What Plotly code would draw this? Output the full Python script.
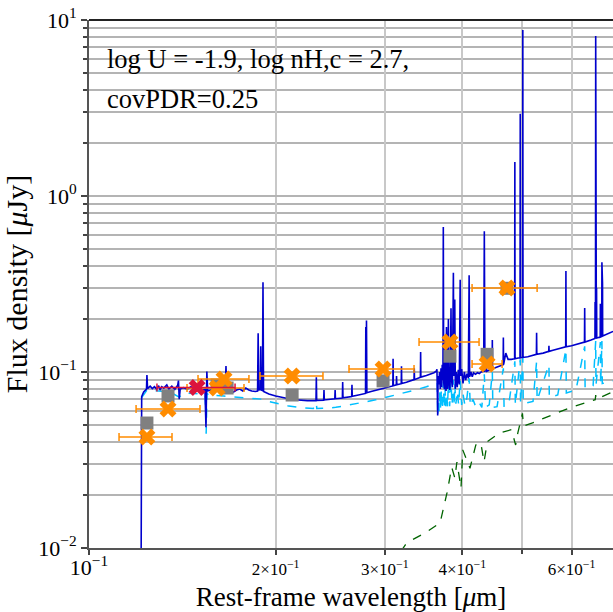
import plotly.graph_objects as go

# ---------------- data ----------------
# total model spectrum (wavelength um, flux uJy)
blue_spectrum = [
    (0.1212, 0.002), (0.1216, 0.0725), (0.1225, 0.077), (0.1238, 0.080), (0.1240, 0.096),
    (0.1243, 0.0805), (0.1255, 0.083), (0.1265, 0.0805), (0.1275, 0.0825), (0.1285, 0.080),
    (0.1295, 0.0835), (0.1302, 0.079), (0.1310, 0.0825), (0.1320, 0.081), (0.1335, 0.0845),
    (0.1345, 0.080), (0.1360, 0.083), (0.1375, 0.0795), (0.1390, 0.084), (0.1394, 0.0893),
    (0.1398, 0.070), (0.1403, 0.080), (0.1420, 0.0815), (0.1440, 0.080), (0.1460, 0.0825),
    (0.1480, 0.0795), (0.1500, 0.081), (0.1520, 0.079), (0.1538, 0.080), (0.1544, 0.0485),
    (0.1549, 0.1005), (0.1554, 0.078), (0.1570, 0.079), (0.1590, 0.0775), (0.1610, 0.079),
    (0.1630, 0.077), (0.1658, 0.078), (0.1663, 0.108), (0.1668, 0.0775), (0.1690, 0.079),
    (0.1710, 0.077), (0.1730, 0.079), (0.1750, 0.080), (0.1770, 0.078), (0.1790, 0.081),
    (0.1810, 0.079), (0.1830, 0.078), (0.1855, 0.0775), (0.1870, 0.078), (0.1874, 0.166),
    (0.1878, 0.079), (0.1889, 0.0795), (0.1892, 0.140), (0.1895, 0.079), (0.1904, 0.0785),
    (0.1908, 0.324), (0.1912, 0.0775), (0.1950, 0.075), (0.2000, 0.073), (0.2050, 0.0715),
    (0.2100, 0.0705), (0.2150, 0.0695), (0.2200, 0.069), (0.2250, 0.0688), (0.2323, 0.0688),
    (0.2326, 0.0934), (0.2329, 0.069), (0.2390, 0.0692), (0.2393, 0.079), (0.2396, 0.0694),
    (0.2491, 0.0705), (0.2494, 0.079), (0.2497, 0.0705), (0.2562, 0.0712), (0.2565, 0.0878),
    (0.2568, 0.0714), (0.2652, 0.0725), (0.2655, 0.0845), (0.2658, 0.0727), (0.2720, 0.074),
    (0.2760, 0.0748), (0.2792, 0.0755), (0.2795, 0.180), (0.2799, 0.076), (0.2802, 0.196),
    (0.2806, 0.0762), (0.2850, 0.0775), (0.2900, 0.079), (0.2950, 0.080), (0.3000, 0.0812),
    (0.3050, 0.0825), (0.3090, 0.0833), (0.3093, 0.1188), (0.3096, 0.0836), (0.3130, 0.0845),
    (0.3133, 0.095), (0.3136, 0.0846), (0.3188, 0.0858), (0.3191, 0.1077), (0.3194, 0.086),
    (0.3250, 0.0875), (0.3300, 0.089), (0.3343, 0.0905), (0.3346, 0.105), (0.3349, 0.0905),
    (0.3400, 0.0925), (0.3423, 0.0935), (0.3426, 0.130), (0.3429, 0.0935), (0.3500, 0.0955),
    (0.3560, 0.0975), (0.3600, 0.099), (0.3630, 0.101), (0.3640, 0.1035), (0.3650, 0.0566),
    (0.3655, 0.095), (0.3665, 0.085), (0.3675, 0.100), (0.3685, 0.080), (0.3695, 0.105),
    (0.3705, 0.082), (0.3712, 0.110), (0.3722, 0.090), (0.3727, 0.667), (0.3732, 0.088),
    (0.3742, 0.080), (0.3750, 0.160), (0.3758, 0.085), (0.3765, 0.078), (0.3771, 0.180),
    (0.3778, 0.090), (0.3788, 0.080), (0.3798, 0.200), (0.3806, 0.088), (0.3818, 0.079),
    (0.3826, 0.095), (0.3835, 0.230), (0.3842, 0.090), (0.3855, 0.082), (0.3869, 0.366),
    (0.3876, 0.095), (0.3889, 0.258), (0.3897, 0.080), (0.3910, 0.100), (0.3925, 0.082),
    (0.3940, 0.103), (0.3955, 0.085), (0.3968, 0.334), (0.3975, 0.095), (0.3990, 0.104),
    (0.4010, 0.086), (0.4030, 0.100), (0.4050, 0.090), (0.4070, 0.098), (0.4090, 0.092),
    (0.4102, 0.355), (0.4110, 0.094), (0.4130, 0.100), (0.4150, 0.094), (0.4170, 0.099),
    (0.4200, 0.097), (0.4230, 0.099), (0.4260, 0.098), (0.4290, 0.100), (0.4330, 0.101),
    (0.4340, 0.630), (0.4350, 0.100), (0.4363, 0.120), (0.4380, 0.101), (0.4400, 0.102),
    (0.4430, 0.103), (0.4467, 0.104), (0.4471, 0.152), (0.4475, 0.104), (0.4530, 0.106),
    (0.4600, 0.108), (0.4654, 0.110), (0.4658, 0.157), (0.4662, 0.110), (0.4700, 0.128),
    (0.4740, 0.118), (0.4800, 0.118), (0.4857, 0.119), (0.4861, 1.56), (0.4865, 0.119),
    (0.4920, 0.120), (0.4955, 0.120), (0.4959, 2.93), (0.4963, 0.121), (0.5003, 0.121),
    (0.5007, 8.77), (0.5011, 0.121), (0.5100, 0.122), (0.5200, 0.124), (0.5266, 0.126),
    (0.5270, 0.167), (0.5274, 0.126), (0.5400, 0.128), (0.5513, 0.131), (0.5517, 0.141),
    (0.5521, 0.131), (0.5600, 0.133), (0.5700, 0.135), (0.5871, 0.139), (0.5876, 0.375),
    (0.5881, 0.139), (0.6000, 0.141), (0.6100, 0.143), (0.6200, 0.146), (0.6295, 0.148),
    (0.6300, 0.231), (0.6305, 0.148), (0.6450, 0.152), (0.6545, 0.155), (0.6548, 0.250),
    (0.6551, 0.155), (0.6558, 0.155), (0.6563, 8.10), (0.6568, 0.156), (0.6579, 0.156),
    (0.6584, 0.300), (0.6589, 0.156), (0.6674, 0.158), (0.6678, 0.244), (0.6682, 0.158),
    (0.6712, 0.159), (0.6716, 0.420), (0.6720, 0.159), (0.6727, 0.159), (0.6731, 0.320),
    (0.6735, 0.160), (0.7000, 0.170),
]

# attenuated stellar + nebular component (light-blue dashed)
lightblue_spectrum = [
    (0.1216, 0.0715), (0.1240, 0.079), (0.1260, 0.0785), (0.1300, 0.0775), (0.1350, 0.077),
    (0.1398, 0.072), (0.1420, 0.076), (0.1480, 0.0755), (0.1520, 0.075), (0.1540, 0.0745),
    (0.1545, 0.0446), (0.1550, 0.076), (0.1560, 0.073), (0.1600, 0.0735), (0.1650, 0.073),
    (0.1700, 0.0725), (0.1750, 0.072), (0.1800, 0.0715), (0.1850, 0.0705), (0.1908, 0.070),
    (0.1950, 0.068), (0.2000, 0.0665), (0.2050, 0.065), (0.2100, 0.064), (0.2200, 0.0628),
    (0.2300, 0.062), (0.2326, 0.067), (0.2330, 0.062), (0.2400, 0.0622), (0.2500, 0.063),
    (0.2600, 0.0645), (0.2700, 0.066), (0.2800, 0.0675), (0.2900, 0.0695), (0.3000, 0.0715),
    (0.3100, 0.0735), (0.3200, 0.0755), (0.3300, 0.078), (0.3400, 0.080), (0.3500, 0.0825),
    (0.3600, 0.085), (0.3645, 0.0865), (0.3650, 0.056), (0.3660, 0.070), (0.3670, 0.060),
    (0.3680, 0.078), (0.3690, 0.062), (0.3700, 0.080), (0.3712, 0.061), (0.3727, 0.088),
    (0.3740, 0.062), (0.3750, 0.082), (0.3760, 0.064), (0.3771, 0.085), (0.3785, 0.063),
    (0.3798, 0.087), (0.3815, 0.064), (0.3835, 0.088), (0.3850, 0.065), (0.3869, 0.090),
    (0.3880, 0.064), (0.3889, 0.086), (0.3905, 0.066), (0.3925, 0.078), (0.3945, 0.065),
    (0.3968, 0.090), (0.3990, 0.065), (0.4010, 0.075), (0.4040, 0.064), (0.4070, 0.072),
    (0.4102, 0.092), (0.4120, 0.064), (0.4160, 0.070), (0.4200, 0.064), (0.4250, 0.068),
    (0.4300, 0.063), (0.4340, 0.097), (0.4360, 0.063), (0.4420, 0.065), (0.4471, 0.100),
    (0.4480, 0.063), (0.4550, 0.0635), (0.4658, 0.105), (0.4670, 0.064), (0.4750, 0.0645),
    (0.4861, 0.115), (0.4870, 0.065), (0.4959, 0.118), (0.4965, 0.0655), (0.5007, 0.120),
    (0.5015, 0.066), (0.5200, 0.068), (0.5270, 0.115), (0.5280, 0.069), (0.5517, 0.110),
    (0.5525, 0.0715), (0.5700, 0.074), (0.5876, 0.135), (0.5885, 0.076), (0.6100, 0.079),
    (0.6300, 0.140), (0.6310, 0.081), (0.6500, 0.0835), (0.6563, 0.150), (0.6570, 0.0845),
    (0.6678, 0.148), (0.6685, 0.0855), (0.6716, 0.150), (0.6725, 0.086), (0.7000, 0.089),
]

# old stellar population (green dashed)
green_spectrum = [
    (0.3180, 0.0095), (0.3236, 0.0104), (0.3330, 0.0112), (0.3500, 0.0123), (0.3683, 0.0139),
    (0.3780, 0.0207), (0.3845, 0.0288), (0.3890, 0.025), (0.3920, 0.0308), (0.3980, 0.0219),
    (0.4006, 0.0361), (0.4115, 0.0284), (0.4205, 0.0385), (0.4284, 0.0396), (0.4335, 0.0308),
    (0.4390, 0.0402), (0.4596, 0.0451), (0.4800, 0.047), (0.4875, 0.0385), (0.4915, 0.0451),
    (0.5000, 0.0582), (0.5020, 0.0493), (0.5190, 0.0514), (0.5966, 0.0627), (0.6552, 0.0696),
    (0.6563, 0.0740), (0.6575, 0.0700), (0.7000, 0.0773),
]

# observed photometry (orange X with wavelength ranges)
obs_wl = [0.1240, 0.1341, 0.1651, 0.1609, 0.2126, 0.2980, 0.3820, 0.4385, 0.4721]
obs_flux = [0.0427, 0.0616, 0.0912, 0.0811, 0.0949, 0.1040, 0.1480, 0.1110, 0.3000]
obs_lo = [0.1118, 0.1191, 0.1499, 0.1439, 0.1887, 0.2626, 0.3406, 0.4147, 0.4147]
obs_hi = [0.1361, 0.1510, 0.1811, 0.1778, 0.2384, 0.3343, 0.4256, 0.4636, 0.5280]

# model photometry (grey squares)
model_wl = [0.1240, 0.1341, 0.1609, 0.1670, 0.2126, 0.2980, 0.3820, 0.4385, 0.4721]
model_flux = [0.0513, 0.0731, 0.0843, 0.0811, 0.0740, 0.0890, 0.1230, 0.1260, 0.2990]

# spectroscopic point (crimson X)
spec_wl = [0.1494]
spec_flux = [0.0817]
spec_lo = [0.1287]
spec_hi = [0.1720]

y_major = [0.01, 0.1, 1, 10]
y_major_text = ["10<sup>−2</sup>", "10<sup>−1</sup>", "10<sup>0</sup>", "10<sup>1</sup>"]
y_minor = [m * d for d in (0.01, 0.1, 1) for m in range(2, 10)]
x_major = [0.1, 0.2, 0.3, 0.4, 0.6]
x_major_text = ["<span style='font-size:22px'>10<sup>−1</sup></span>",
                "2×10<sup>−1</sup>", "3×10<sup>−1</sup>",
                "4×10<sup>−1</sup>", "6×10<sup>−1</sup>"]
x_minor = [0.5]

# ---------------- figure ----------------
FONT = "Liberation Serif, Times New Roman, serif"
fig = go.Figure()

fig.add_trace(go.Scatter(
    x=[p[0] for p in green_spectrum], y=[p[1] for p in green_spectrum],
    mode="lines", line=dict(color="#006400", width=1.3, dash="dash"), showlegend=False))
fig.add_trace(go.Scatter(
    x=[p[0] for p in lightblue_spectrum], y=[p[1] for p in lightblue_spectrum],
    mode="lines", line=dict(color="#00BFFF", width=1.5, dash="dash"), showlegend=False))
fig.add_trace(go.Scatter(
    x=[p[0] for p in blue_spectrum], y=[p[1] for p in blue_spectrum],
    mode="lines", line=dict(color="#0000CD", width=1.6), showlegend=False))

fig.add_trace(go.Scatter(
    x=model_wl, y=model_flux, mode="markers",
    marker=dict(symbol="square", size=13, color="#808080"), showlegend=False))

fig.add_trace(go.Scatter(
    x=obs_wl, y=obs_flux, mode="markers",
    marker=dict(symbol="x", size=15, color="#FF8C00", line=dict(width=0)),
    error_x=dict(type="data", symmetric=False,
                 array=[h - w for h, w in zip(obs_hi, obs_wl)],
                 arrayminus=[w - l for w, l in zip(obs_wl, obs_lo)],
                 color="#FF8C00", thickness=1.5, width=4),
    showlegend=False))

fig.add_trace(go.Scatter(
    x=spec_wl, y=spec_flux, mode="markers",
    marker=dict(symbol="x", size=15, color="#DC143C", line=dict(width=0)),
    error_x=dict(type="data", symmetric=False,
                 array=[h - w for h, w in zip(spec_hi, spec_wl)],
                 arrayminus=[w - l for w, l in zip(spec_wl, spec_lo)],
                 color="#DC143C", thickness=1.5, width=4),
    showlegend=False))

fig.add_annotation(text="log U = -1.9, log nH,c = 2.7,", xref="paper", yref="paper",
                   x=0.031, y=0.927, xanchor="left", yanchor="middle", showarrow=False,
                   font=dict(family=FONT, size=26.5, color="black"))
fig.add_annotation(text="covPDR=0.25", xref="paper", yref="paper",
                   x=0.031, y=0.850, xanchor="left", yanchor="middle", showarrow=False,
                   font=dict(family=FONT, size=26.5, color="black"))

fig.update_xaxes(
    type="log", range=[-1, -0.155],
    tickmode="array", tickvals=x_major, ticktext=x_major_text,
    ticks="outside", ticklen=5, tickwidth=1.5, tickcolor="#444",
    tickfont=dict(family=FONT, size=17, color="black"),
    showgrid=True, gridcolor="#c8c8c8", gridwidth=1.5,
    minor=dict(tickmode="array", tickvals=x_minor, ticks="outside", ticklen=4,
               tickcolor="#444", showgrid=True, gridcolor="#c8c8c8", gridwidth=1.5),
    showline=True, linecolor="#555", linewidth=2, mirror=False, zeroline=False,
    title=dict(text="Rest-frame wavelength [<i>μ</i>m]",
               font=dict(family=FONT, size=27, color="black"), standoff=10),
)
fig.update_yaxes(
    type="log", range=[-2, 1],
    tickmode="array", tickvals=y_major, ticktext=y_major_text,
    ticks="outside", ticklen=6, tickwidth=1.5, tickcolor="#444",
    tickfont=dict(family=FONT, size=22, color="black"),
    showgrid=True, gridcolor="#b4b4b4", gridwidth=1.5,
    minor=dict(tickmode="array", tickvals=y_minor, ticks="outside", ticklen=4,
               tickcolor="#444", showgrid=True, gridcolor="#b4b4b4", gridwidth=1.5),
    showline=True, linecolor="#555", linewidth=2, mirror=False, zeroline=False,
    title=dict(text="Flux density [<i>μ</i>Jy]",
               font=dict(family=FONT, size=30, color="black"), standoff=4),
)

fig.add_shape(type="line", xref="paper", yref="paper", x0=0, x1=1, y0=1, y1=1,
              line=dict(color="#222", width=2))

fig.update_layout(
    width=613, height=612,
    margin=dict(l=89, r=0, t=20, b=64),
    paper_bgcolor="white", plot_bgcolor="white",
    showlegend=False,
)

fig.write_html("out.html")
